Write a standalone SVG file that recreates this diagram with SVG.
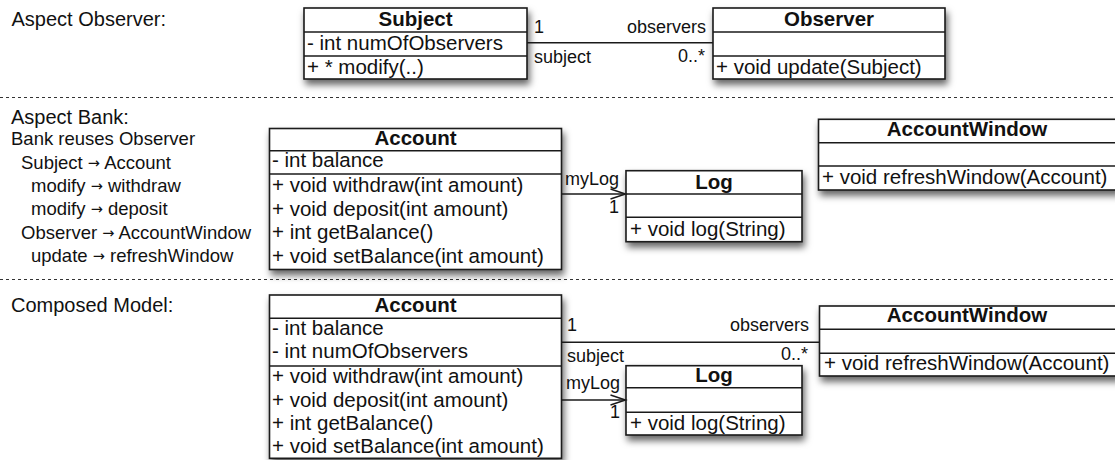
<svg xmlns="http://www.w3.org/2000/svg" width="1115" height="460" viewBox="0 0 1115 460">
<style>
.box{fill:#fff;stroke:#1a1a1a;stroke-width:1.6}
.sep{stroke:#1a1a1a;stroke-width:1.4}
.t{font-family:"Liberation Sans",Arial,Helvetica,sans-serif;font-size:20.5px;fill:#111}
.hd{font-weight:bold;text-anchor:middle}
.title{font-size:20px}
.map{font-size:18.5px}
.arr{font-family:"DejaVu Sans",sans-serif;font-size:14.5px}
.lbl{font-size:18px}
.end{text-anchor:end}
.dot{stroke:#333;stroke-width:1.2;stroke-dasharray:3 3;fill:none}
.conn{stroke:#1a1a1a;stroke-width:1.5;fill:none}
</style>
<defs>
<filter id="sh" x="-10%" y="-20%" width="130%" height="160%">
<feDropShadow dx="2" dy="5" stdDeviation="3.5" flood-color="#000" flood-opacity="0.6"/>
</filter>
</defs>
<rect width="1115" height="460" fill="#fff"/>

<g id="separators">
<line class="dot" x1="0" y1="97.5" x2="1115" y2="97.5"/>
<line class="dot" x1="0" y1="279.5" x2="1115" y2="279.5"/>
</g>

<g id="labels" class="t">
<text class="title" x="11.5" y="26">Aspect Observer:</text>
<text class="title" x="11" y="124">Aspect Bank:</text>
<text class="map" x="11" y="145">Bank reuses Observer</text>
<text class="map" x="21" y="168.7">Subject <tspan class="arr" dy="-1">→</tspan><tspan dy="1"> Account</tspan></text>
<text class="map" x="31" y="192">modify <tspan class="arr" dy="-1">→</tspan><tspan dy="1"> withdraw</tspan></text>
<text class="map" x="31" y="215.3">modify <tspan class="arr" dy="-1">→</tspan><tspan dy="1"> deposit</tspan></text>
<text class="map" x="21" y="238.7">Observer <tspan class="arr" dy="-1">→</tspan><tspan dy="1"> AccountWindow</tspan></text>
<text class="map" x="31" y="262">update <tspan class="arr" dy="-1">→</tspan><tspan dy="1"> refreshWindow</tspan></text>
<text class="title" x="11" y="311.7">Composed Model:</text>
</g>

<!-- Section 1 -->
<g id="subject">
<rect class="box" x="304" y="8" width="223" height="71" filter="url(#sh)"/>
<line class="sep" x1="304" y1="32" x2="527" y2="32"/>
<line class="sep" x1="304" y1="56" x2="527" y2="56"/>
<text class="t hd" x="415.5" y="26">Subject</text>
<text class="t" x="307" y="50">- int numOfObservers</text>
<text class="t" x="307" y="74">+ * modify(..)</text>
</g>
<g id="observer">
<rect class="box" x="713" y="8" width="232" height="71" filter="url(#sh)"/>
<line class="sep" x1="713" y1="32" x2="945" y2="32"/>
<line class="sep" x1="713" y1="56" x2="945" y2="56"/>
<text class="t hd" x="829" y="26">Observer</text>
<text class="t" x="716" y="74">+ void update(Subject)</text>
</g>

<!-- Section 2 -->
<g id="account1">
<rect class="box" x="269.5" y="128.5" width="292" height="141" filter="url(#sh)"/>
<line class="sep" x1="269.5" y1="150.7" x2="561.5" y2="150.7"/>
<line class="sep" x1="269.5" y1="174" x2="561.5" y2="174"/>
<text class="t hd" x="415.5" y="145">Account</text>
<text class="t" x="272" y="167.3">- int balance</text>
<text class="t" x="272" y="191.7">+ void withdraw(int amount)</text>
<text class="t" x="272" y="215.5">+ void deposit(int amount)</text>
<text class="t" x="272" y="239.4">+ int getBalance()</text>
<text class="t" x="272" y="263.3">+ void setBalance(int amount)</text>
</g>
<g id="log1">
<rect class="box" x="626" y="170.7" width="176" height="71" filter="url(#sh)"/>
<line class="sep" x1="626" y1="194" x2="802" y2="194"/>
<line class="sep" x1="626" y1="217.3" x2="802" y2="217.3"/>
<text class="t hd" x="714" y="189">Log</text>
<text class="t" x="630" y="236">+ void log(String)</text>
</g>
<g id="accountwindow1">
<rect class="box" x="818.5" y="119.3" width="300" height="70.7" filter="url(#sh)"/>
<line class="sep" x1="818.5" y1="142.7" x2="1118" y2="142.7"/>
<line class="sep" x1="818.5" y1="166" x2="1118" y2="166"/>
<text class="t hd" x="967" y="136">AccountWindow</text>
<text class="t" x="822" y="183.5">+ void refreshWindow(Account)</text>
</g>

<!-- Section 3 -->
<g id="account2">
<rect class="box" x="269.5" y="295" width="292" height="163.3" filter="url(#sh)"/>
<line class="sep" x1="269.5" y1="318.3" x2="561.5" y2="318.3"/>
<line class="sep" x1="269.5" y1="366" x2="561.5" y2="366"/>
<text class="t hd" x="415.5" y="311.7">Account</text>
<text class="t" x="272" y="335">- int balance</text>
<text class="t" x="272" y="358.3">- int numOfObservers</text>
<text class="t" x="272" y="383.3">+ void withdraw(int amount)</text>
<text class="t" x="272" y="406.7">+ void deposit(int amount)</text>
<text class="t" x="272" y="430">+ int getBalance()</text>
<text class="t" x="272" y="453.3">+ void setBalance(int amount)</text>
</g>
<g id="log2">
<rect class="box" x="626" y="365.7" width="176" height="69.3" filter="url(#sh)"/>
<line class="sep" x1="626" y1="387.7" x2="802" y2="387.7"/>
<line class="sep" x1="626" y1="412.3" x2="802" y2="412.3"/>
<text class="t hd" x="714" y="382">Log</text>
<text class="t" x="630" y="430">+ void log(String)</text>
</g>
<g id="accountwindow2">
<rect class="box" x="819.5" y="306" width="300" height="70" filter="url(#sh)"/>
<line class="sep" x1="819.5" y1="329.3" x2="1118" y2="329.3"/>
<line class="sep" x1="819.5" y1="353.3" x2="1118" y2="353.3"/>
<text class="t hd" x="967" y="322">AccountWindow</text>
<text class="t" x="824" y="370">+ void refreshWindow(Account)</text>
</g>

<g id="connectors">
<line class="conn" x1="527" y1="42.7" x2="713" y2="42.7"/>
<text class="t lbl" x="534" y="32.7">1</text>
<text class="t lbl end" x="706" y="32.7">observers</text>
<text class="t lbl" x="534" y="63">subject</text>
<text class="t lbl end" x="705" y="62">0..*</text>

<line class="conn" x1="561.5" y1="194" x2="625" y2="194"/>
<path class="conn" d="M610.5,189 L625.5,194 L610.5,199"/>
<text class="t lbl" x="565" y="185">myLog</text>
<text class="t lbl end" x="619" y="213.3">1</text>

<line class="conn" x1="561.5" y1="342.3" x2="819.5" y2="342.3"/>
<text class="t lbl" x="567" y="330.7">1</text>
<text class="t lbl end" x="809" y="330.7">observers</text>
<text class="t lbl" x="567" y="361.7">subject</text>
<text class="t lbl end" x="808" y="360">0..*</text>

<line class="conn" x1="561.5" y1="400" x2="625" y2="400"/>
<path class="conn" d="M610.5,395 L625.5,400 L610.5,405"/>
<text class="t lbl" x="566" y="389">myLog</text>
<text class="t lbl end" x="620" y="418.3">1</text>
</g>
</svg>
